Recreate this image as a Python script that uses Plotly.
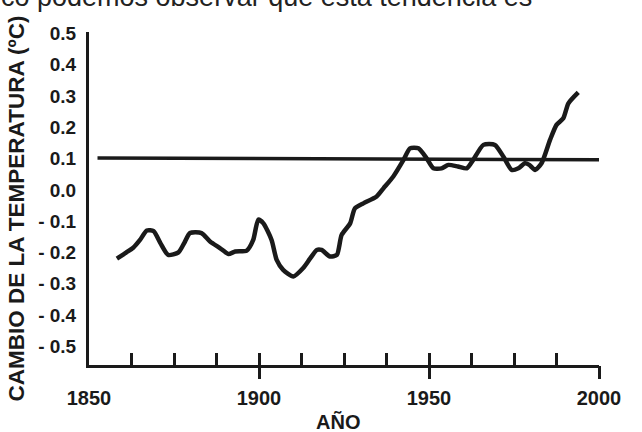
import plotly.graph_objects as go

# Data
years = [1858.2, 1861, 1863, 1865, 1867, 1869, 1871, 1873.3, 1876.3, 1878, 1879.7,
         1883.1, 1885.6, 1888.5, 1891, 1893, 1896.4, 1898.3, 1899.8, 1901.3, 1903.7,
         1905.2, 1907.1, 1910.1, 1913, 1915, 1917, 1918.4, 1920.9, 1922.9, 1924.3,
         1926.8, 1928.2, 1930.7, 1934.6, 1936.6, 1939.5, 1942.5, 1944.4, 1946.9,
         1949.3, 1951.3, 1953.7, 1955.7, 1958.5, 1961.1, 1963, 1966, 1969.4, 1971.9,
         1974.3, 1976.3, 1978.2, 1979.5, 1981.2, 1983.1, 1985.6, 1987.5, 1989.5,
         1991, 1993.9]
temp_change = [-0.22, -0.20, -0.185, -0.16, -0.13, -0.132, -0.17, -0.208, -0.2, -0.17,
               -0.138, -0.138, -0.165, -0.186, -0.205, -0.197, -0.194, -0.16, -0.095,
               -0.107, -0.16, -0.224, -0.256, -0.277, -0.25, -0.22, -0.192, -0.192,
               -0.213, -0.208, -0.144, -0.107, -0.059, -0.043, -0.021, 0.005, 0.043,
               0.096, 0.133, 0.133, 0.101, 0.069, 0.069, 0.08, 0.075, 0.069, 0.096,
               0.144, 0.144, 0.106, 0.064, 0.069, 0.085, 0.08, 0.064, 0.085, 0.16,
               0.208, 0.229, 0.277, 0.312]

ref_years = [1852.5, 2003]
ref_values = [0.102, 0.096]

y_ticks = [0.5, 0.4, 0.3, 0.2, 0.1, 0.0, -0.1, -0.2, -0.3, -0.4, -0.5]
y_ticklabels = ["0.5", "0.4", "0.3", "0.2", "0.1", "0.0",
                "- 0.1", "- 0.2", "- 0.3", "- 0.4", "- 0.5"]
x_ticks = [1850 + 12.5 * i for i in range(13)]
x_ticklabels = [str(int(v)) if v % 50 == 0 else "" for v in x_ticks]
x_major = [1900, 1950, 2000]

INK = "#1a1a1a"
FONT = "Liberation Sans, Arial, sans-serif"

fig = go.Figure()
fig.add_trace(go.Scatter(x=years, y=temp_change, mode="lines",
                         line=dict(color=INK, width=4.5, shape="spline", smoothing=0.6),
                         showlegend=False, hoverinfo="skip"))
fig.add_trace(go.Scatter(x=ref_years, y=ref_values, mode="lines", xaxis="x2",
                         line=dict(color=INK, width=3.5), cliponaxis=False,
                         showlegend=False, hoverinfo="skip"))

fig.update_layout(
    width=642, height=432,
    margin=dict(l=89, r=43, t=32, b=67),
    paper_bgcolor="white", plot_bgcolor="white",
    font=dict(family=FONT, color=INK),
    xaxis=dict(range=[1850, 2000], tickvals=x_ticks, ticktext=x_ticklabels,
               ticks="inside", ticklen=12, tickwidth=3, tickcolor=INK,
               showline=True, linewidth=3, linecolor=INK, showgrid=False,
               zeroline=False, ticklabelstandoff=13, automargin=False,
               tickfont=dict(size=20, weight=700, family=FONT, color=INK)),
    xaxis2=dict(range=[1850, 2000], overlaying="x", anchor="y", side="bottom",
                tickvals=x_major, ticks="outside", ticklen=13, tickwidth=3,
                tickcolor=INK, showticklabels=False, showline=False,
                showgrid=False, zeroline=False, automargin=False),
    yaxis=dict(range=[-0.56, 0.505], tickvals=y_ticks, ticktext=y_ticklabels,
               ticks="", showline=True, linewidth=3, linecolor=INK,
               showgrid=False, zeroline=False, ticklabelstandoff=6,
               automargin=False,
               tickfont=dict(size=19, weight=700, family=FONT, color=INK)),
    annotations=[
        dict(text="CAMBIO DE LA TEMPERATURA (ºC)", textangle=-90,
             xref="paper", yref="paper", x=-0.143, y=0.47,
             xanchor="center", yanchor="middle", showarrow=False,
             font=dict(size=22.5, weight=700, family=FONT, color=INK)),
        dict(text="AÑO", xref="paper", yref="paper", x=0.488, y=-0.171,
             xanchor="center", yanchor="middle", showarrow=False,
             font=dict(size=20, weight=700, family=FONT, color=INK)),
        dict(text="ico podemos observar que esta tendencia es",
             xref="paper", yref="paper", x=-0.188, y=1.106,
             xanchor="left", yanchor="middle", showarrow=False,
             font=dict(size=27, family=FONT, color="#222222")),
    ],
)

fig.write_html("out.html", config={"displayModeBar": False},
               post_script="document.body.style.margin='0';")
